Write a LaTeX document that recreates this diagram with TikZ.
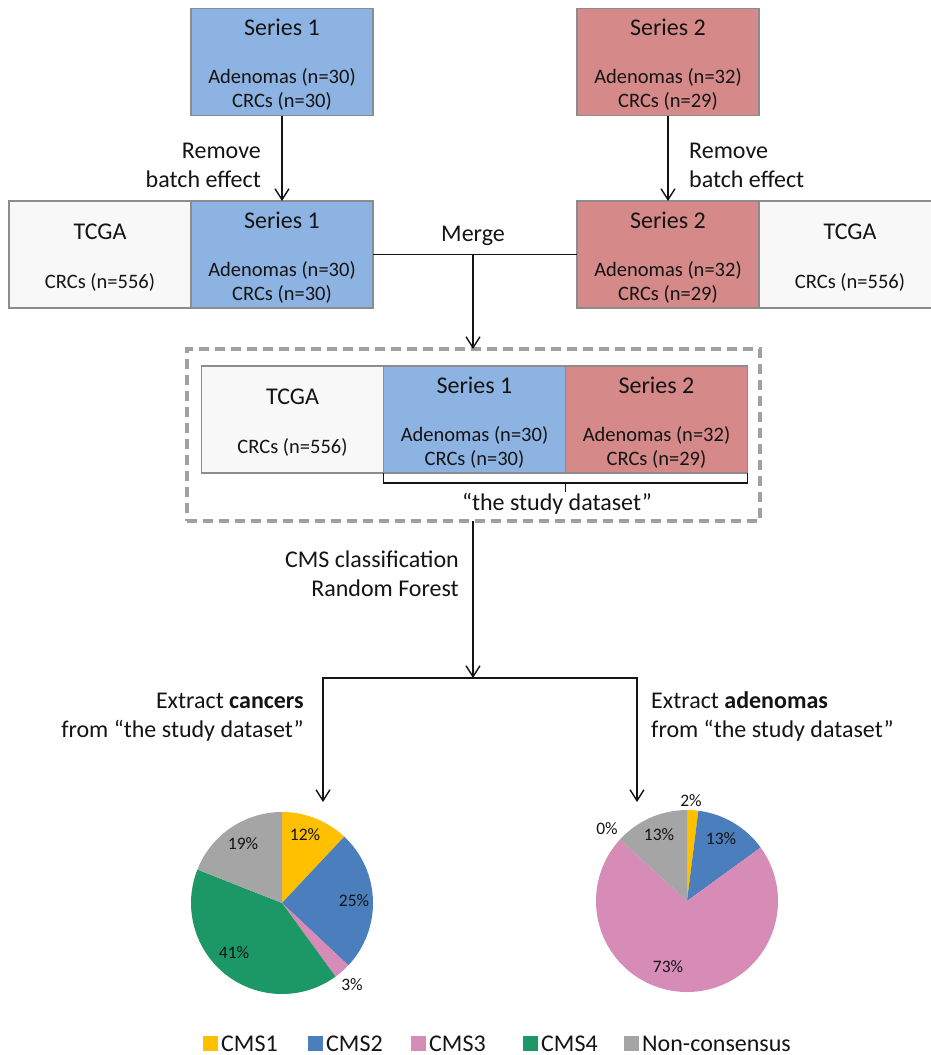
\documentclass[tikz,border=0pt]{standalone}
\usepackage{fontspec}
\setmainfont{Carlito}
\usetikzlibrary{arrows.meta,positioning}
\definecolor{seriesblue}{RGB}{141,179,226}
\definecolor{seriesred}{RGB}{214,137,137}
\definecolor{tcgagray}{RGB}{248,248,248}
\definecolor{framegray}{RGB}{140,140,140}
\definecolor{dashgray}{RGB}{160,160,160}
\definecolor{inkgray}{RGB}{20,20,20}
\definecolor{cmsone}{RGB}{255,192,0}
\definecolor{cmstwo}{RGB}{74,126,189}
\definecolor{cmsthree}{RGB}{215,139,183}
\definecolor{cmsfour}{RGB}{27,152,101}
\definecolor{noncons}{RGB}{165,165,165}
\tikzset{
    %Define standard arrow tip
    >={Straight Barb[length=11pt,width=14pt]},
    %Define style for boxes
    seriesbox/.style={
           rectangle,
           draw=framegray, line width=1.2pt,
           minimum width=182pt,
           minimum height=107pt,
           inner sep=0pt, outer sep=0pt},
    sone/.style={seriesbox, fill=seriesblue},
    stwo/.style={seriesbox, fill=seriesred},
    tcga/.style={seriesbox, fill=tcgagray},
    studybox/.style={
           rectangle,
           draw=dashgray, line width=3.2pt,
           dash pattern=on 10pt off 6pt,
           minimum width=573pt,
           minimum height=172pt,
           inner sep=0pt, outer sep=0pt},
    % Define text styles
    boxtitle/.style={font=\fontsize{24}{29}\selectfont, text=inkgray, inner sep=0pt, anchor=base},
    boxcount/.style={font=\fontsize{20.5}{24}\selectfont, text=inkgray, inner sep=0pt, anchor=base},
    lblleft/.style={boxtitle, anchor=base east},
    lblright/.style={boxtitle, anchor=base west},
    pct/.style={font=\fontsize{17.5}{20}\selectfont, text=inkgray, inner sep=0pt},
    legtext/.style={boxtitle, anchor=base west},
    % Define arrow style
    pil/.style={->, line width=1.4pt, draw=inkgray},
    conn/.style={line width=1.4pt, draw=inkgray}
}
\begin{document}
\begin{tikzpicture}[x=1pt,y=-1pt]
\useasboundingbox (0,0) rectangle (930,1055);
% boxes
\node[sone] (s1top) at (282,62) {};
\node[stwo] (s2top) at (668,62) {};
\node[sone] (s1mid) at (282,254.5) {};
\node[tcga, left=0pt of s1mid] (tcgaL) {};
\node[stwo] (s2mid) at (668,254.5) {};
\node[tcga, right=0pt of s2mid] (tcgaR) {};
\node[studybox] (study) at (473.5,435) {};
\node[sone] (s1bot) at (474.5,419.5) {};
\node[tcga, left=0pt of s1bot] (tcgaM) {};
\node[stwo, right=0pt of s1bot] (s2bot) {};
\foreach \b/\t/\a/\c in {s1top/Series 1/30/30, s1mid/Series 1/30/30, s1bot/Series 1/30/30,
    s2top/Series 2/32/29, s2mid/Series 2/32/29, s2bot/Series 2/32/29}{
  \node[boxtitle] (\b-t) at ([yshift=-27pt]\b.north) {\t};
  \node[boxcount] (\b-a) at ([yshift=-75pt]\b.north) {Adenomas (n=\a)};
  \node[boxcount] (\b-c) at ([yshift=-99pt]\b.north) {CRCs (n=\c)};
}
\foreach \b in {tcgaL,tcgaR,tcgaM}{
  \node[boxtitle] (\b-t) at ([yshift=-38pt]\b.north) {TCGA};
  \node[boxcount] (\b-c) at ([yshift=-87pt]\b.north) {CRCs (n=556)};
}
% connectors
\draw[pil] (s1top) -- (s1mid);
\draw[pil] (s2top) -- (s2mid);
\draw[conn] (s1mid) -- (s2mid);
\coordinate (merge) at (473,254.5);
\draw[pil] (merge) -- (merge |- study.north);
\coordinate (split) at (473,678);
\draw[pil] (split |- study.south) -- (split);
\coordinate (brL) at (323,678);
\coordinate (brR) at (637,678);
\coordinate (tipL) at (323,802);
\coordinate (tipR) at (637,802);
\draw[pil, <->] (tipL) -- (brL) -- (brR) -- (tipR);
\draw[conn, line width=1.2pt] (s1bot.south west) -- ++(0,10) -| (s2bot.south east);
\draw[conn, line width=1.2pt] (s1bot.south east) ++(0,10) -- ++(0,9);
% labels
\node[lblleft] (rmL1) at (261,158) {Remove};
\node[lblleft] (rmL2) at (261,187) {batch effect};
\node[lblright] (rmR1) at (689,158) {Remove};
\node[lblright] (rmR2) at (689,187) {batch effect};
\node[boxtitle] (mergeT) at (473,241) {Merge};
\node[boxtitle] (studyT) at (557,510) {“the study dataset”};
\node[lblleft] (cmsT1) at (459,567) {CMS classification};
\node[lblleft] (cmsT2) at (459,596) {Random Forest};
\node[lblleft] (exL1) at (304,708) {Extract \textbf{cancers}};
\node[lblleft] (exL2) at (304,737) {from “the study dataset”};
\node[lblright] (exR1) at (651,708) {Extract \textbf{adenomas}};
\node[lblright] (exR2) at (651,737) {from “the study dataset”};
% pies
\coordinate (pieL) at (282,903);
\coordinate (pieR) at (687,901);
\foreach \c/\s/\e in {cmsone/90/46.8, cmstwo/46.8/-43.2, cmsthree/-43.2/-54,
    cmsfour/-54/-201.6, noncons/-201.6/-270}
  \fill[\c] (pieL) -- ++(\s:91pt) arc[start angle=\s, end angle=\e, radius=91pt] -- cycle;
\foreach \c/\s/\e in {cmsone/90/82.8, cmstwo/82.8/36, cmsthree/36/-222.5, noncons/-222.5/-270}
  \fill[\c] (pieR) -- ++(\s:91pt) arc[start angle=\s, end angle=\e, radius=91pt] -- cycle;
\node[pct] (pL1) at (305,835) {12\%};
\node[pct] (pL2) at (354,901) {25\%};
\node[pct] (pL3) at (352,985) {3\%};
\node[pct] (pL4) at (234,953) {41\%};
\node[pct] (pL5) at (243,844) {19\%};
\node[pct] (pR1) at (691,801) {2\%};
\node[pct] (pR2) at (721,839) {13\%};
\node[pct] (pR3) at (668,967) {73\%};
\node[pct] (pR4) at (607,829) {0\%};
\node[pct] (pR5) at (659,835) {13\%};
% legend
\foreach \c/\t/\x in {cmsone/CMS1/203, cmstwo/CMS2/308, cmsthree/CMS3/411,
    cmsfour/CMS4/523, noncons/Non-consensus/624}{
  \fill[\c] (\x,1036) rectangle ++(15,15);
  \node[legtext] (leg\c) at (\x+18,1051) {\t};
}
\end{tikzpicture}
\end{document}
